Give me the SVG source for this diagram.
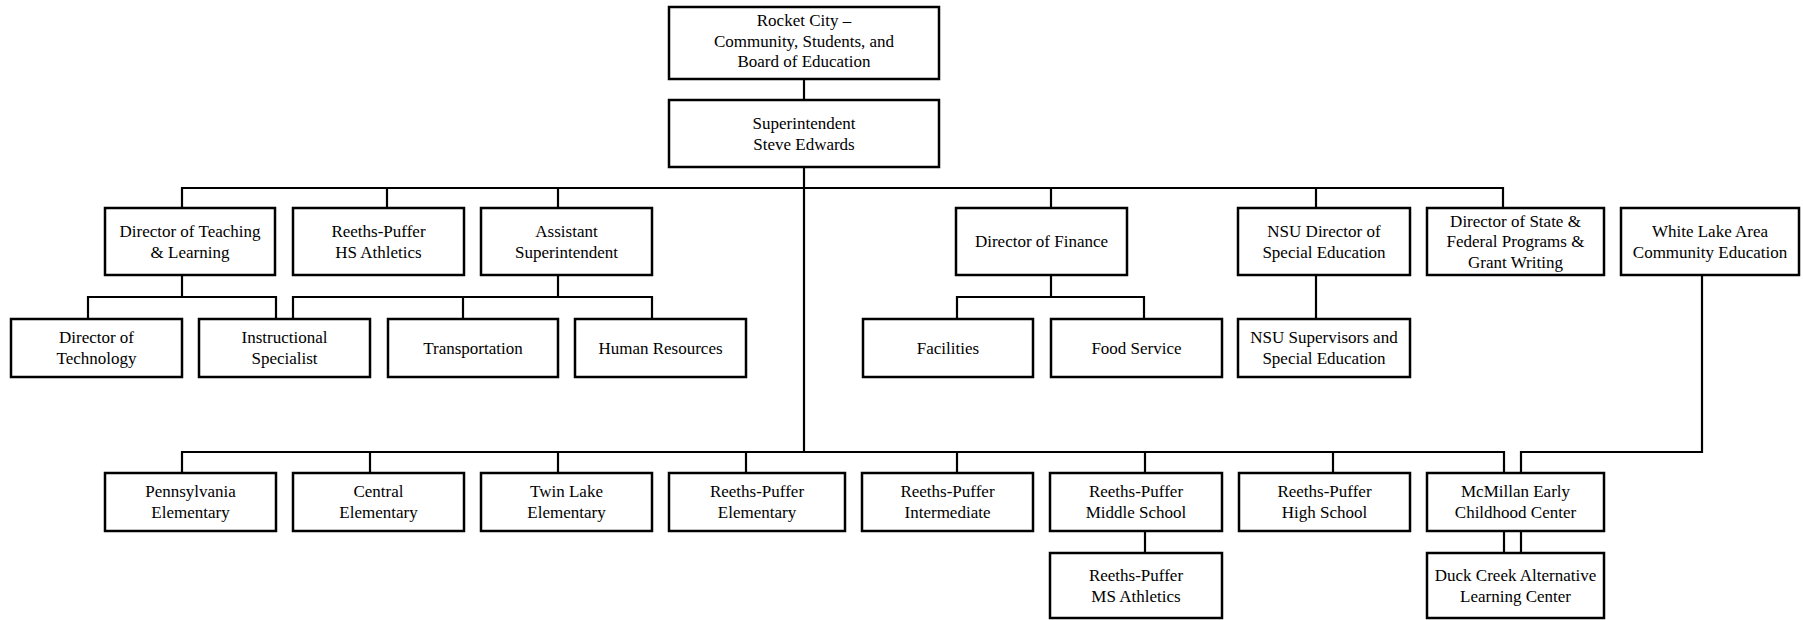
<svg xmlns="http://www.w3.org/2000/svg" width="1803" height="620" viewBox="0 0 1803 620">
<style>
  .box { fill: #ffffff; stroke: #000000; stroke-width: 2.5; }
  .conn { fill: none; stroke: #000000; stroke-width: 2.2; }
</style>
<rect width="1803" height="620" fill="#ffffff"/>
<g id="connectors" class="conn">
  <path d="M804,79 V100"/>
  <path d="M804,167 V452"/>
  <path d="M182,208 V188 H1503 V208"/>
  <path d="M387,188 V208"/>
  <path d="M558,188 V208"/>
  <path d="M1051,188 V208"/>
  <path d="M1316,188 V208"/>
  <path d="M182,275 V297"/>
  <path d="M88,319 V297 H276 V319"/>
  <path d="M558,275 V297"/>
  <path d="M293,319 V297 H652 V319"/>
  <path d="M463,297 V319"/>
  <path d="M1051,275 V297"/>
  <path d="M957,319 V297 H1144 V319"/>
  <path d="M1316,275 V319"/>
  <path d="M182,473 V452 H1504 V473"/>
  <path d="M370,452 V473"/>
  <path d="M558,452 V473"/>
  <path d="M746,452 V473"/>
  <path d="M957,452 V473"/>
  <path d="M1145,452 V473"/>
  <path d="M1333,452 V473"/>
  <path d="M1702,275 V452 H1521 V473"/>
  <path d="M1504,531 V553"/>
  <path d="M1521,531 V553"/>
  <path d="M1145,531 V553"/>
</g>
<g id="nodes" font-family="Liberation Serif, Tinos, DejaVu Serif, Noto Serif, serif" font-size="17" fill="#000000" text-anchor="middle">
<g id="board"><rect class="box" x="669" y="7" width="270" height="72"/><text x="804" y="26">Rocket City –</text><text x="804" y="46.5">Community, Students, and</text><text x="804" y="67">Board of Education</text></g>
<g id="superintendent"><rect class="box" x="669" y="100" width="270" height="67"/><text x="804" y="129">Superintendent</text><text x="804" y="150">Steve Edwards</text></g>
<g id="dir-teaching"><rect class="box" x="105" y="208" width="170" height="67"/><text x="190" y="236.5">Director of Teaching</text><text x="190" y="257.5">&amp; Learning</text></g>
<g id="hs-athletics"><rect class="box" x="293" y="208" width="171" height="67"/><text x="378.5" y="236.5">Reeths-Puffer</text><text x="378.5" y="257.5">HS Athletics</text></g>
<g id="asst-supt"><rect class="box" x="481" y="208" width="171" height="67"/><text x="566.5" y="236.5">Assistant</text><text x="566.5" y="257.5">Superintendent</text></g>
<g id="dir-finance"><rect class="box" x="956" y="208" width="171" height="67"/><text x="1041.5" y="247">Director of Finance</text></g>
<g id="nsu-director"><rect class="box" x="1238" y="208" width="172" height="67"/><text x="1324" y="236.5">NSU Director of</text><text x="1324" y="257.5">Special Education</text></g>
<g id="state-federal"><rect class="box" x="1427" y="208" width="177" height="67"/><text x="1515.5" y="226.5">Director of State &amp;</text><text x="1515.5" y="247">Federal Programs &amp;</text><text x="1515.5" y="267.5">Grant Writing</text></g>
<g id="white-lake"><rect class="box" x="1621" y="208" width="178" height="67"/><text x="1710" y="236.5">White Lake Area</text><text x="1710" y="257.5">Community Education</text></g>
<g id="dir-technology"><rect class="box" x="11" y="319" width="171" height="58"/><text x="96.5" y="343">Director of</text><text x="96.5" y="364">Technology</text></g>
<g id="instructional"><rect class="box" x="199" y="319" width="171" height="58"/><text x="284.5" y="343">Instructional</text><text x="284.5" y="364">Specialist</text></g>
<g id="transportation"><rect class="box" x="388" y="319" width="170" height="58"/><text x="473" y="353.5">Transportation</text></g>
<g id="human-resources"><rect class="box" x="575" y="319" width="171" height="58"/><text x="660.5" y="353.5">Human Resources</text></g>
<g id="facilities"><rect class="box" x="863" y="319" width="170" height="58"/><text x="948" y="353.5">Facilities</text></g>
<g id="food-service"><rect class="box" x="1051" y="319" width="171" height="58"/><text x="1136.5" y="353.5">Food Service</text></g>
<g id="nsu-supervisors"><rect class="box" x="1238" y="319" width="172" height="58"/><text x="1324" y="343">NSU Supervisors and</text><text x="1324" y="364">Special Education</text></g>
<g id="pennsylvania"><rect class="box" x="105" y="473" width="171" height="58"/><text x="190.5" y="497">Pennsylvania</text><text x="190.5" y="518">Elementary</text></g>
<g id="central"><rect class="box" x="293" y="473" width="171" height="58"/><text x="378.5" y="497">Central</text><text x="378.5" y="518">Elementary</text></g>
<g id="twin-lake"><rect class="box" x="481" y="473" width="171" height="58"/><text x="566.5" y="497">Twin Lake</text><text x="566.5" y="518">Elementary</text></g>
<g id="rp-elementary"><rect class="box" x="669" y="473" width="176" height="58"/><text x="757" y="497">Reeths-Puffer</text><text x="757" y="518">Elementary</text></g>
<g id="rp-intermediate"><rect class="box" x="862" y="473" width="171" height="58"/><text x="947.5" y="497">Reeths-Puffer</text><text x="947.5" y="518">Intermediate</text></g>
<g id="rp-middle"><rect class="box" x="1050" y="473" width="172" height="58"/><text x="1136" y="497">Reeths-Puffer</text><text x="1136" y="518">Middle School</text></g>
<g id="rp-high"><rect class="box" x="1239" y="473" width="171" height="58"/><text x="1324.5" y="497">Reeths-Puffer</text><text x="1324.5" y="518">High School</text></g>
<g id="mcmillan"><rect class="box" x="1427" y="473" width="177" height="58"/><text x="1515.5" y="497">McMillan Early</text><text x="1515.5" y="518">Childhood Center</text></g>
<g id="ms-athletics"><rect class="box" x="1050" y="553" width="172" height="65"/><text x="1136" y="581">Reeths-Puffer</text><text x="1136" y="602">MS Athletics</text></g>
<g id="duck-creek"><rect class="box" x="1427" y="553" width="177" height="65"/><text x="1515.5" y="581">Duck Creek Alternative</text><text x="1515.5" y="602">Learning Center</text></g>
</g>
</svg>
